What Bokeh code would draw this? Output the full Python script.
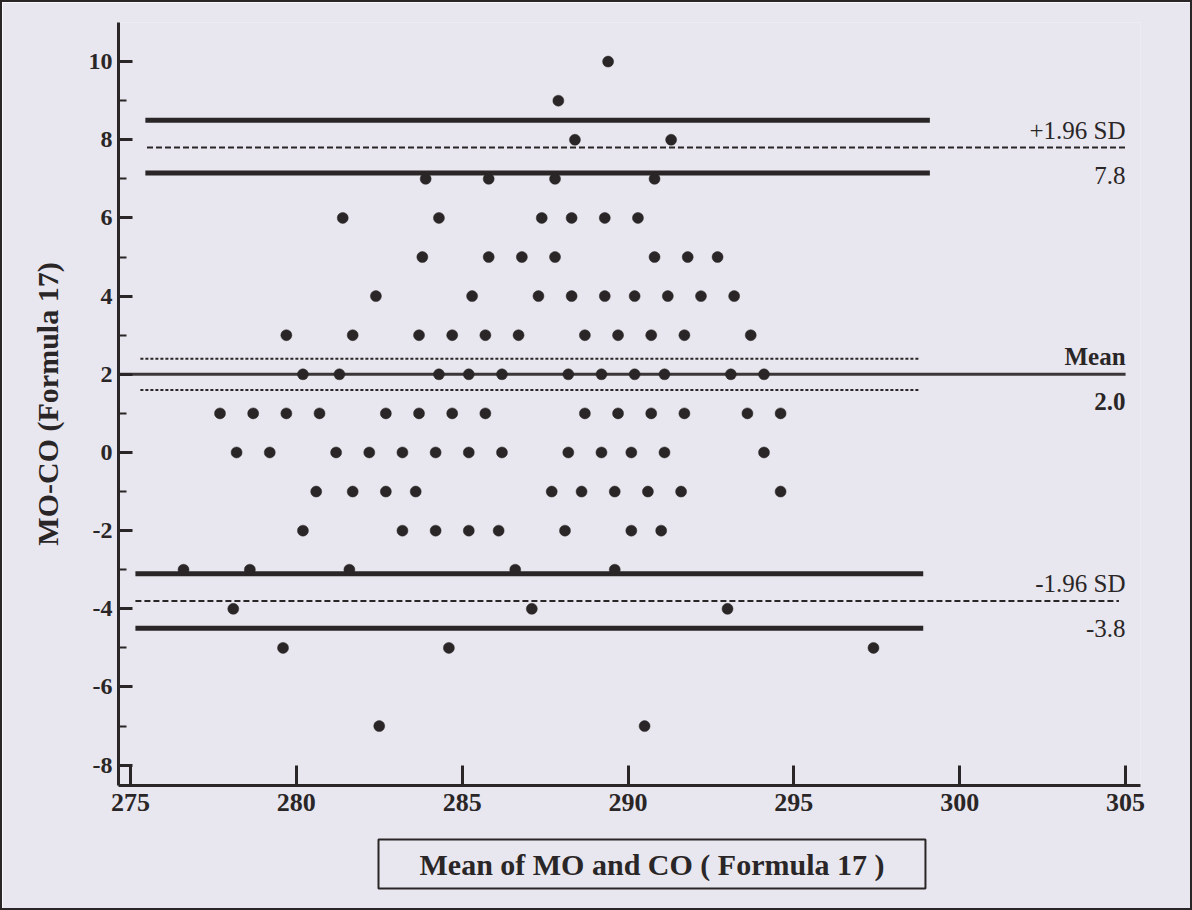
from bokeh.plotting import figure
from bokeh.models import Range1d, FixedTicker, Title
from bokeh.core.properties import value
from bokeh.embed import file_html
from bokeh.resources import INLINE

# ---- data: mean of MO and CO (x) for each integer difference MO-CO (y) ----
means_d10 = [289.4]
means_d9 = [287.9]
means_d8 = [288.4, 291.3]
means_d7 = [283.9, 285.8, 287.8, 290.8]
means_d6 = [281.4, 284.3, 287.4, 288.3, 289.3, 290.3]
means_d5 = [283.8, 285.8, 286.8, 287.8, 290.8, 291.8, 292.7]
means_d4 = [282.4, 285.3, 287.3, 288.3, 289.3, 290.2, 291.2, 292.2, 293.2]
means_d3 = [279.7, 281.7, 283.7, 284.7, 285.7, 286.7, 288.7, 289.7, 290.7, 291.7, 293.7]
means_d2 = [280.2, 281.3, 284.3, 285.2, 286.2, 288.2, 289.2, 290.2, 291.1, 293.1, 294.1]
means_d1 = [277.7, 278.7, 279.7, 280.7, 282.7, 283.7, 284.7, 285.7, 288.7, 289.7, 290.7, 291.7, 293.6, 294.6]
means_d0 = [278.2, 279.2, 281.2, 282.2, 283.2, 284.2, 285.2, 286.2, 288.2, 289.2, 290.1, 291.1, 294.1]
means_dm1 = [280.6, 281.7, 282.7, 283.6, 287.7, 288.6, 289.6, 290.6, 291.6, 294.6]
means_dm2 = [280.2, 283.2, 284.2, 285.2, 286.1, 288.1, 290.1, 291.0]
means_dm3 = [276.6, 278.6, 281.6, 286.6, 289.6]
means_dm4 = [278.1, 287.1, 293.0]
means_dm5 = [279.6, 284.6, 297.4]
means_dm7 = [282.5, 290.5]

row_diffs = [10, 9, 8, 7, 6, 5, 4, 3, 2, 1, 0, -1, -2, -3, -4, -5, -7]
row_means = [means_d10, means_d9, means_d8, means_d7, means_d6, means_d5, means_d4,
             means_d3, means_d2, means_d1, means_d0, means_dm1, means_dm2, means_dm3,
             means_dm4, means_dm5, means_dm7]

# ---- Bland-Altman statistics ----
mean_diff = 2.0
mean_ci = [2.4, 1.6]
upper_loa = 7.8
upper_loa_ci = [8.5, 7.15]
lower_loa = -3.8
lower_loa_ci = [-3.1, -4.5]

# extents of the reference lines along x
mean_line_x = [274.64, 305.0]
mean_ci_x = [275.3, 298.8]
upper_loa_x = [275.5, 305.0]
upper_ci_x = [275.45, 299.1]
lower_loa_x = [275.15, 304.8]
lower_ci_x = [275.15, 298.9]

# ticks
x_ticks = [275, 280, 285, 290, 295, 300, 305]
y_ticks = [-8, -6, -4, -2, 0, 2, 4, 6, 8, 10]
y_minor = [-7, -5, -3, -1, 1, 3, 5, 7, 9]

upper_texts = ["+1.96 SD", "Mean", "-1.96 SD"]
lower_texts = ["7.8", "2.0", "-3.8"]
text_levels = [upper_loa, mean_diff, lower_loa]
text_styles = ["normal", "bold", "normal"]

BG = "#e8e6ee"
INK = "#2a2627"
SERIF = "Liberation Serif"

xs, ys = [], []
for d, ms in zip(row_diffs, row_means):
    xs.extend(ms)
    ys.extend([d] * len(ms))

p = figure(width=1192, height=910,
           x_range=Range1d(274.64, 305.45), y_range=Range1d(-8.52, 11.0),
           output_backend="svg", toolbar_location=None,
           min_border_left=116, min_border_right=54,
           min_border_top=20, min_border_bottom=125)
p.background_fill_color = BG
p.border_fill_color = BG
p.outline_line_color = None
p.grid.grid_line_color = None

# reference lines
p.line(mean_line_x, [mean_diff, mean_diff], line_color="#3b3637", line_width=3)
for yv in mean_ci:
    p.line(mean_ci_x, [yv, yv], line_color=INK, line_width=2, line_dash="3 2")
p.line(upper_loa_x, [upper_loa, upper_loa], line_color=INK, line_width=2, line_dash="6 3")
p.line(lower_loa_x, [lower_loa, lower_loa], line_color=INK, line_width=2, line_dash="6 3")
for yv in upper_loa_ci:
    p.line(upper_ci_x, [yv, yv], line_color=INK, line_width=5)
for yv in lower_loa_ci:
    p.line(lower_ci_x, [yv, yv], line_color=INK, line_width=5)

# points
p.scatter(xs, ys, size=11, fill_color=INK, line_color=INK, line_width=0.5)

# right-hand labels
for t_up, t_lo, lvl, st in zip(upper_texts, lower_texts, text_levels, text_styles):
    p.text([305.0], [lvl], text=[t_up], text_align="right", text_baseline="bottom",
           y_offset=-4, text_font=value(SERIF), text_font_style=st,
           text_font_size="25px", text_color=INK)
    p.text([305.0], [lvl], text=[t_lo], text_align="right", text_baseline="top",
           y_offset=19, text_font=value(SERIF), text_font_style=st,
           text_font_size="25px", text_color=INK)

# axes
xa = p.xaxis[0]
xa.ticker = FixedTicker(ticks=x_ticks, minor_ticks=[])
xa.major_label_overrides = {t: str(t) for t in x_ticks}
xa.major_tick_in = 20
xa.major_tick_out = 0
xa.axis_line_width = 3
xa.axis_line_color = INK
xa.major_tick_line_width = 3
xa.major_tick_line_color = INK
xa.major_label_standoff = 8
xa.major_label_text_font = SERIF
xa.major_label_text_font_style = "bold"
xa.major_label_text_font_size = "26px"
xa.major_label_text_color = INK

ya = p.yaxis[0]
ya.ticker = FixedTicker(ticks=y_ticks, minor_ticks=y_minor)
ya.major_label_overrides = {t: str(t) for t in y_ticks}
ya.major_tick_in = 14
ya.major_tick_out = 0
ya.minor_tick_in = 8
ya.minor_tick_out = 0
ya.axis_line_width = 3
ya.axis_line_color = INK
ya.major_tick_line_width = 3
ya.major_tick_line_color = INK
ya.minor_tick_line_width = 2
ya.minor_tick_line_color = INK
ya.major_label_standoff = 6
ya.major_label_text_font = SERIF
ya.major_label_text_font_style = "bold"
ya.major_label_text_font_size = "24px"
ya.major_label_text_color = INK
ya.axis_label = "MO-CO (Formula 17)"
ya.axis_label_text_font = SERIF
ya.axis_label_text_font_style = "bold"
ya.axis_label_text_font_size = "30px"
ya.axis_label_text_color = INK
ya.axis_label_standoff = 22

# boxed x-axis title
title_box = Title(text="Mean of MO and CO ( Formula 17 )", align="left", offset=260,
                  standoff=48, text_font=SERIF, text_font_style="bold",
                  text_font_size="30px", text_color=INK,
                  border_line_color=INK, border_line_width=2,
                  padding=dict(left=41, right=41, top=8, bottom=8))
p.add_layout(title_box, "below")

p.styles = {"border": "2px solid #2a2627", "box-sizing": "border-box"}

open("out.html", "w").write(file_html(p, INLINE))
